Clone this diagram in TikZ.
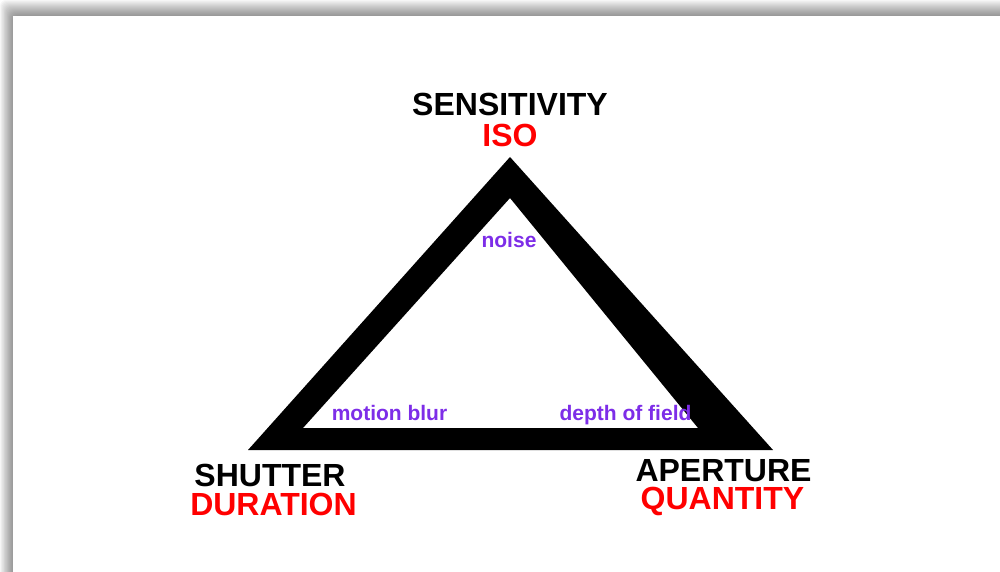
\documentclass[tikz,border=0pt]{standalone}
\usepackage{fontspec}
\setmainfont{Liberation Sans}
\definecolor{isored}{RGB}{255,0,0}
\definecolor{effectpurple}{RGB}{125,45,232}
\begin{document}
\begin{tikzpicture}[x=1pt,y=-1pt,line join = round,
	big/.style={font=\fontsize{32}{38}\selectfont\bfseries,inner sep=0pt,anchor=base},
	small/.style={font=\fontsize{21}{25}\selectfont\bfseries,inner sep=0pt,anchor=base,text=effectpurple}]
	\def \pagew{1000}
	\def \pageh{572}
	\useasboundingbox (0,0) rectangle (\pagew,\pageh);
	% frame shadow
	\foreach \i in {0,...,15}
		\fill[black,opacity=0.032,rounded corners=6pt] (\i*0.82,\i) rectangle (\pagew+40,\pageh+40);
	\fill[white] (13,16) rectangle (\pagew+40,\pageh+40);
	% triangle
	\path
	(510,157) coordinate (T)
	(248,450) coordinate (L)
	(773,450) coordinate (R)
	(510,198) coordinate (t)
	(303,428) coordinate (l)
	(698,428) coordinate (r)
	;
	\fill[black,even odd rule] (T) -- (L) -- (R) -- cycle (t) -- (l) -- (r) -- cycle;
	% corners
	\node[big] (sens) at (510,116) {SENSITIVITY};
	\node[big,text=isored] (iso) at (510,147) {ISO};
	\node[big] (shut) at (270,486) {SHUTTER};
	\node[big,text=isored] (dur) at (273.5,515) {DURATION};
	\node[big] (aper) at (723.5,481) {APERTURE};
	\node[big,text=isored] (quant) at (722.5,509) {QUANTITY};
	% effects
	\node[small] (noise) at (509,247) {noise};
	\node[small] (blur) at (389.5,420) {motion blur};
	\node[small] (dof) at (625.5,420) {depth of field};
\end{tikzpicture}
\end{document}
